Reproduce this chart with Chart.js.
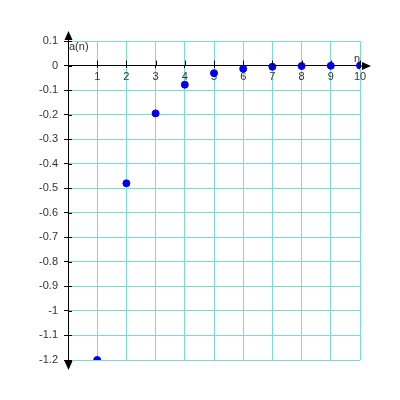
<!DOCTYPE html>
<html>
<head>
<meta charset="utf-8">
<script src="https://cdn.jsdelivr.net/npm/chart.js@4"></script>
<style>
html,body{margin:0;padding:0;background:#fff;}
#wrap{width:400px;height:400px;}
</style>
</head>
<body>
<div id="wrap"><canvas id="c" width="400" height="400"></canvas></div>
<script>
const nValues = [1, 2, 3, 4, 5, 6, 7, 8, 9, 10];
const aValues = [-1.2, -0.48, -0.195, -0.078, -0.031, -0.013, -0.005, -0.002, -0.001, 0];
const xTickLabels = ['', '1', '2', '3', '4', '5', '6', '7', '8', '9', '10'];
const yTickLabels = ['0.1', '0', '-0.1', '-0.2', '-0.3', '-0.4', '-0.5', '-0.6', '-0.7', '-0.8', '-0.9', '-1', '-1.1', '-1.2'];

const gridColor = '#79dcd3';
const fontSpec = {family: 'Liberation Sans, Arial, sans-serif', size: 11};

const arrowsPlugin = {
  id: 'arrows',
  afterDraw(chart) {
    const ctx = chart.ctx;
    const xs = chart.scales.x, ys = chart.scales.y;
    const x0 = xs.getPixelForValue(0), y0 = ys.getPixelForValue(0);
    const xr = xs.getPixelForValue(10), yt = ys.getPixelForValue(0.1), yb = ys.getPixelForValue(-1.2);
    ctx.save();
    ctx.strokeStyle = '#000';
    ctx.fillStyle = '#000';
    ctx.lineWidth = 1;
    ctx.beginPath();
    ctx.moveTo(x0 + 0.5, yt - 4); ctx.lineTo(x0 + 0.5, yb + 4);
    ctx.moveTo(xr, y0 + 0.5); ctx.lineTo(xr + 6, y0 + 0.5);
    ys.ticks.forEach(t => {
      const p = Math.round(ys.getPixelForValue(t.value)) + 0.5;
      ctx.moveTo(x0, p); ctx.lineTo(x0 + 4, p);
    });
    xs.ticks.forEach(t => {
      if (t.value === 0) return;
      const p = Math.round(xs.getPixelForValue(t.value)) + 0.5;
      ctx.moveTo(p, y0); ctx.lineTo(p, y0 - 5);
    });
    ctx.stroke();
    ctx.beginPath();
    ctx.moveTo(x0 + 0.5, yt - 10); ctx.lineTo(x0 - 3.5, yt - 1); ctx.lineTo(x0 + 4.5, yt - 1); ctx.closePath(); ctx.fill();
    ctx.beginPath();
    ctx.moveTo(x0 + 0.5, yb + 10); ctx.lineTo(x0 - 3.5, yb + 1); ctx.lineTo(x0 + 4.5, yb + 1); ctx.closePath(); ctx.fill();
    ctx.beginPath();
    ctx.moveTo(xr + 11, y0 + 0.5); ctx.lineTo(xr + 2, y0 - 3.5); ctx.lineTo(xr + 2, y0 + 4.5); ctx.closePath(); ctx.fill();
    ctx.fillStyle = '#333';
    ctx.font = '11px Liberation Sans, Arial, sans-serif';
    ctx.textAlign = 'left';
    ctx.textBaseline = 'middle';
    ctx.fillText('a(n)', x0 + 1, yt + 6);
    ctx.fillText('n', xr - 6, y0 - 7);
    ctx.restore();
  }
};

new Chart(document.getElementById('c'), {
  type: 'scatter',
  data: {
    datasets: [{
      data: nValues.map((n, i) => ({x: n, y: aValues[i]})),
      backgroundColor: '#0000ee',
      borderColor: '#0000ee',
      pointRadius: 3.5,
      pointHoverRadius: 3.5
    }]
  },
  options: {
    responsive: false,
    animation: false,
    layout: {padding: {left: 28, top: 41, right: 40, bottom: 40}},
    plugins: {legend: {display: false}, tooltip: {enabled: false}},
    scales: {
      x: {
        type: 'linear',
        position: {y: 0},
        min: 0, max: 10,
        ticks: {
          stepSize: 1,
          color: '#333',
          font: fontSpec,
          padding: 3,
          maxRotation: 0,
          callback: (v) => xTickLabels[Math.round(v)]
        },
        grid: {
          color: (c) => (c.tick && c.tick.value === 0) ? 'rgba(0,0,0,0)' : gridColor,
          tickColor: '#000',
          tickLength: 2,
          lineWidth: 1
        },
        border: {color: '#000', width: 1}
      },
      y: {
        type: 'linear',
        position: 'left',
        min: -1.2, max: 0.1,
        afterFit: (scale) => { scale.width = 40; },
        ticks: {
          stepSize: 0.1,
          color: '#333',
          font: fontSpec,
          padding: 6,
          callback: (v) => yTickLabels[Math.round((0.1 - v) * 10)]
        },
        grid: {
          color: (c) => (c.tick && Math.abs(c.tick.value) < 1e-9) ? 'rgba(0,0,0,0)' : gridColor,
          tickColor: '#000',
          tickLength: 4,
          lineWidth: 1
        },
        border: {color: '#000', width: 1}
      }
    }
  },
  plugins: [arrowsPlugin]
});
</script>
</body>
</html>
